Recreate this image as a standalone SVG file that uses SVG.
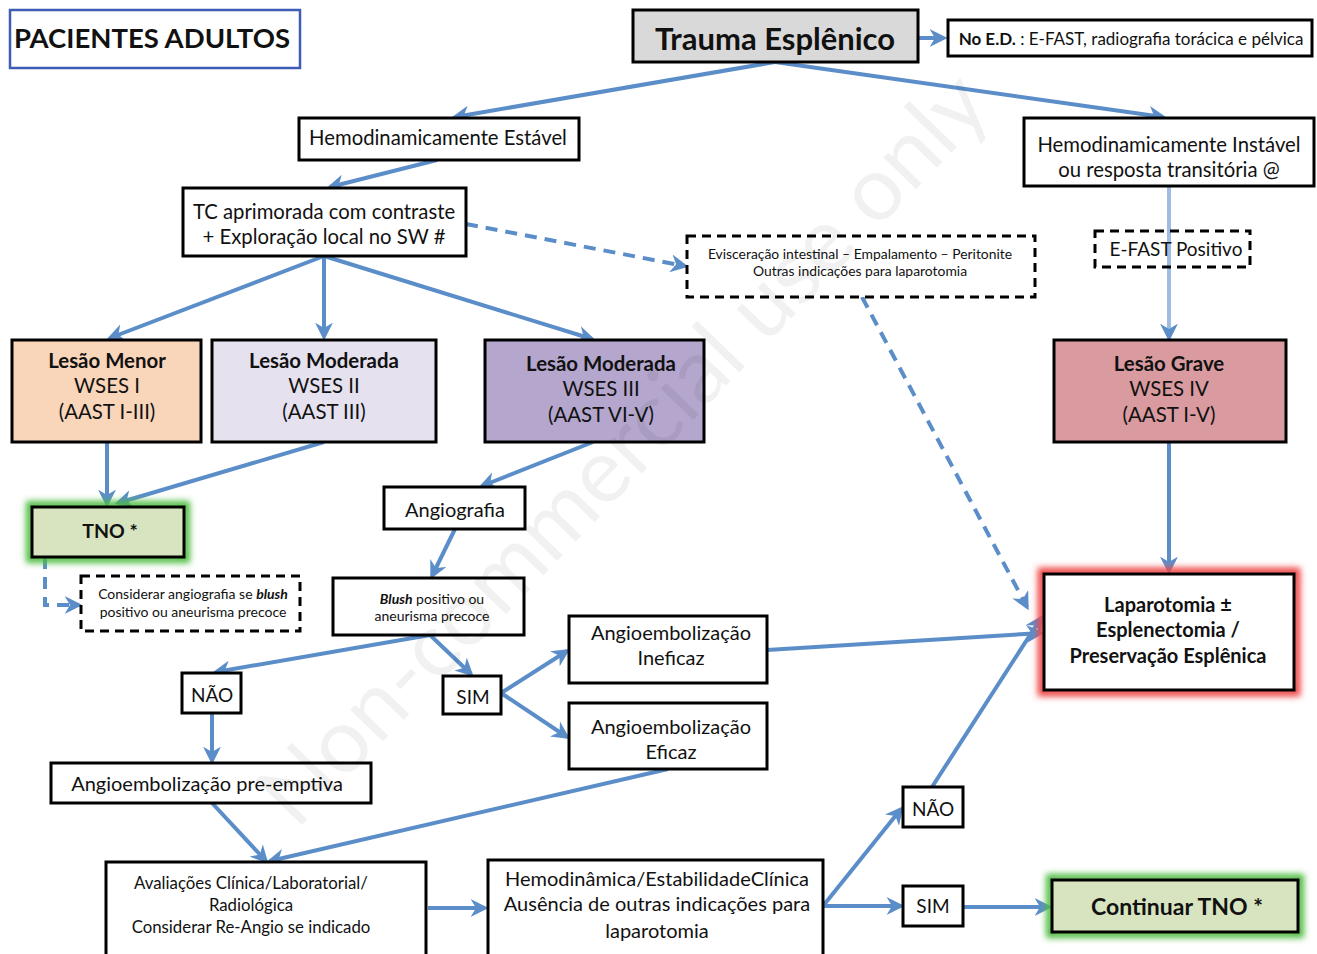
<svg xmlns="http://www.w3.org/2000/svg" width="1317" height="954" viewBox="0 0 1317 954">
<defs>
<marker id="ah" viewBox="0 0 10 10" refX="8" refY="5" markerWidth="4.5" markerHeight="4.5" orient="auto" markerUnits="strokeWidth">
<path d="M0,0 L10,5 L0,10 L3,5 z" fill="#5b8ec9"/>
</marker>
<filter id="glow" x="-20%" y="-20%" width="140%" height="140%"><feGaussianBlur stdDeviation="3"/></filter>
<style>
.box{fill:#fff;stroke:#000;stroke-width:3}
.dash{fill:#fff;stroke:#000;stroke-width:3;stroke-dasharray:9 6}
.t{font-family:Lato,"Open Sans","Liberation Sans",sans-serif;fill:#111;text-anchor:middle}
.b{font-weight:bold}
.c{fill:none;stroke:#5b8ec9;stroke-width:4;marker-end:url(#ah)}
.cd{fill:none;stroke:#5b8ec9;stroke-width:4;stroke-dasharray:12 8;marker-end:url(#ah)}
</style>
</defs>
<rect width="1317" height="954" fill="#fff"/>

<g id="connectors">
<line class="c" x1="918" y1="38" x2="944" y2="38"/>
<line class="c" x1="775" y1="62" x2="455" y2="117"/>
<line class="c" x1="775" y1="62" x2="1163" y2="117"/>
<line class="c" x1="437" y1="160" x2="330" y2="187"/>
<line x1="1169" y1="186" x2="1169" y2="330" stroke="#9dbde3" stroke-width="4"/>
<line class="c" x1="1169" y1="320" x2="1169" y2="338" style="stroke:#9dbde3"/>
<line class="cd" x1="466" y1="224" x2="685" y2="266"/>
<line class="c" x1="324" y1="256" x2="110" y2="338"/>
<line class="c" x1="324" y1="256" x2="324" y2="337"/>
<line class="c" x1="324" y1="256" x2="592" y2="339"/>
<line class="c" x1="107" y1="442" x2="107" y2="504"/>
<line class="c" x1="324" y1="442" x2="118" y2="503"/>
<line class="c" x1="593" y1="442" x2="482" y2="486"/>
<line class="c" x1="455" y1="529" x2="432" y2="576"/>
<polyline class="cd" points="45,557 45,605 79,605"/>
<line class="cd" x1="862" y1="297" x2="1027" y2="607"/>
<line class="c" x1="430" y1="635" x2="216" y2="672"/>
<line class="c" x1="430" y1="635" x2="471" y2="674"/>
<line class="c" x1="501" y1="693" x2="567" y2="651"/>
<line class="c" x1="501" y1="693" x2="567" y2="737"/>
<line class="c" x1="767" y1="650" x2="1041" y2="633"/>
<line class="c" x1="212" y1="713" x2="212" y2="761"/>
<line class="c" x1="212" y1="803" x2="266" y2="861"/>
<line class="c" x1="668" y1="769" x2="270" y2="861"/>
<line class="c" x1="428" y1="908" x2="485" y2="908"/>
<line class="c" x1="823" y1="906" x2="901" y2="809"/>
<line class="c" x1="823" y1="906" x2="901" y2="906"/>
<line class="c" x1="932" y1="787" x2="1041" y2="618"/>
<line class="c" x1="963" y1="907" x2="1049" y2="907"/>
<line class="c" x1="1169" y1="442" x2="1169" y2="571"/>
</g>

<g id="pacientes">
<rect x="10" y="10" width="290" height="58" fill="#fff" stroke="#3d5cb5" stroke-width="2.5"/>
<text class="t b" x="152" y="48" font-size="27.5">PACIENTES ADULTOS</text>
</g>
<g id="trauma">
<rect class="box" x="633" y="10" width="285" height="52" style="fill:#d9d9d9"/>
<text class="t b" x="775" y="50" font-size="31">Trauma Esplênico</text>
</g>
<g id="noed">
<rect class="box" x="948" y="20" width="364" height="36"/>
<text class="t" x="1131" y="45" font-size="17"><tspan font-weight="bold">No E.D.</tspan> : E-FAST, radiografia torácica e pélvica</text>
</g>
<g id="estavel">
<rect class="box" x="299" y="118" width="280" height="42"/>
<text class="t" x="438" y="145" font-size="20.3">Hemodinamicamente Estável</text>
</g>
<g id="instavel">
<rect class="box" x="1024" y="118" width="290" height="68"/>
<text class="t" x="1169" y="152" font-size="20.3">Hemodinamicamente Instável</text>
<text class="t" x="1169" y="177" font-size="20.3">ou resposta transitória @</text>
</g>
<g id="tc">
<rect class="box" x="183" y="188" width="283" height="68"/>
<text class="t" x="324" y="219" font-size="20.3">TC aprimorada com contraste</text>
<text class="t" x="324" y="244" font-size="20.3">+ Exploração local no SW #</text>
</g>
<g id="evisceracao">
<rect class="dash" x="687" y="236" width="348" height="61"/>
<text class="t" x="860" y="259" font-size="13.9">Evisceração intestinal – Empalamento – Peritonite</text>
<text class="t" x="860" y="276" font-size="13.9">Outras indicações para laparotomia</text>
</g>
<g id="efast">
<rect class="dash" x="1095" y="231" width="155" height="36" style="fill:none"/>
<text class="t" x="1176" y="256" font-size="19">E-FAST Positivo</text>
</g>
<g id="lesao-menor">
<rect class="box" x="12" y="340" width="189" height="102" style="fill:#f9d6b9"/>
<text class="t b" x="107" y="368" font-size="20.4">Lesão Menor</text>
<text class="t" x="107" y="393" font-size="20.4">WSES I</text>
<text class="t" x="107" y="419" font-size="20.4">(AAST I-III)</text>
</g>
<g id="lesao-mod2">
<rect class="box" x="212" y="340" width="224" height="102" style="fill:#e6e1ef"/>
<text class="t b" x="324" y="368" font-size="20.4">Lesão Moderada</text>
<text class="t" x="324" y="393" font-size="20.4">WSES II</text>
<text class="t" x="324" y="419" font-size="20.4">(AAST III)</text>
</g>
<g id="lesao-mod3">
<rect class="box" x="485" y="340" width="219" height="102" style="fill:#b4a6cd"/>
<text class="t b" x="601" y="371" font-size="20.4">Lesão Moderada</text>
<text class="t" x="601" y="396" font-size="20.4">WSES III</text>
<text class="t" x="601" y="422" font-size="20.4">(AAST VI-V)</text>
</g>
<g id="lesao-grave">
<rect class="box" x="1054" y="340" width="232" height="102" style="fill:#d99b9f"/>
<text class="t b" x="1169" y="371" font-size="20.4">Lesão Grave</text>
<text class="t" x="1169" y="396" font-size="20.4">WSES IV</text>
<text class="t" x="1169" y="422" font-size="20.4">(AAST I-V)</text>
</g>
<g id="angiografia">
<rect class="box" x="384" y="487" width="141" height="42"/>
<text class="t" x="455" y="517" font-size="20">Angiografia</text>
</g>
<g id="tno">
<rect x="30" y="505" width="156" height="54" fill="none" stroke="#4cbb3c" stroke-width="8" filter="url(#glow)"/>
<rect class="box" x="32" y="507" width="152" height="50" style="fill:#d7e4bf"/>
<text class="t b" x="110" y="538" font-size="19.5">TNO *</text>
</g>
<g id="considerar">
<rect class="dash" x="81" y="576" width="219" height="55"/>
<text class="t" x="193" y="599" font-size="14">Considerar angiografia se <tspan font-weight="bold" font-style="italic">blush</tspan></text>
<text class="t" x="193" y="617" font-size="14">positivo ou aneurisma precoce</text>
</g>
<g id="blush">
<rect class="box" x="333" y="578" width="191" height="57"/>
<text class="t" x="432" y="604" font-size="14"><tspan font-weight="bold" font-style="italic">Blush</tspan> positivo ou</text>
<text class="t" x="432" y="621" font-size="14">aneurisma precoce</text>
</g>
<g id="ineficaz">
<rect class="box" x="569" y="616" width="198" height="67"/>
<text class="t" x="671" y="640" font-size="20">Angioembolização</text>
<text class="t" x="671" y="665" font-size="20">Ineficaz</text>
</g>
<g id="nao1">
<rect class="box" x="182" y="673" width="59" height="40"/>
<text class="t" x="212" y="702" font-size="19">NÃO</text>
</g>
<g id="sim1">
<rect class="box" x="443" y="676" width="58" height="38"/>
<text class="t" x="473" y="704" font-size="19">SIM</text>
</g>
<g id="eficaz">
<rect class="box" x="569" y="703" width="198" height="66"/>
<text class="t" x="671" y="734" font-size="20">Angioembolização</text>
<text class="t" x="671" y="759" font-size="20">Eficaz</text>
</g>
<g id="laparotomia">
<rect x="1042" y="572" width="254" height="120" fill="none" stroke="#f04848" stroke-width="9" filter="url(#glow)"/>
<rect class="box" x="1044" y="574" width="250" height="116"/>
<text class="t b" x="1168" y="612" font-size="20">Laparotomia ±</text>
<text class="t b" x="1168" y="637" font-size="20">Esplenectomia /</text>
<text class="t b" x="1168" y="663" font-size="20">Preservação Esplênica</text>
</g>
<g id="preemptiva">
<rect class="box" x="51" y="763" width="320" height="40"/>
<text class="t" x="207" y="791" font-size="20">Angioembolização pre-emptiva</text>
</g>
<g id="nao2">
<rect class="box" x="903" y="787" width="60" height="40"/>
<text class="t" x="933" y="816" font-size="19">NÃO</text>
</g>
<g id="avaliacoes">
<rect class="box" x="106" y="862" width="320" height="94"/>
<text class="t" x="251" y="889" font-size="16.8">Avaliações Clínica/Laboratorial/</text>
<text class="t" x="251" y="911" font-size="16.8">Radiológica</text>
<text class="t" x="251" y="933" font-size="16.8">Considerar Re-Angio se indicado</text>
</g>
<g id="hemodinamica">
<rect class="box" x="488" y="860" width="335" height="96"/>
<text class="t" x="657" y="886" font-size="20">Hemodinâmica/EstabilidadeClínica</text>
<text class="t" x="657" y="911" font-size="20">Ausência de outras indicações para</text>
<text class="t" x="657" y="938" font-size="20">laparotomia</text>
</g>
<g id="sim2">
<rect class="box" x="903" y="886" width="60" height="40"/>
<text class="t" x="933" y="913" font-size="19">SIM</text>
</g>
<g id="continuar">
<rect x="1050" y="878" width="250" height="56" fill="none" stroke="#4cbb3c" stroke-width="8" filter="url(#glow)"/>
<rect class="box" x="1052" y="880" width="246" height="52" style="fill:#d7e4bf"/>
<text class="t b" x="1177" y="915" font-size="23">Continuar TNO *</text>
</g>
<g id="watermark">
<text class="t" x="645" y="470" font-size="90" transform="rotate(-46 645 470)" style="fill:#000;opacity:0.05">Non-commercial use only</text>
</g>
</svg>
